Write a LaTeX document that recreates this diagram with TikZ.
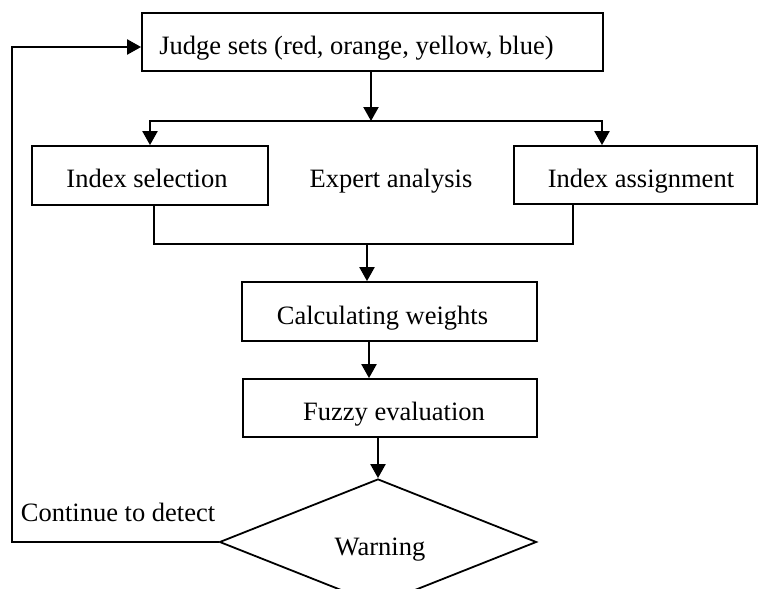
\documentclass[tikz,border=0pt]{standalone}
\usepackage{fontspec}
\setmainfont{Liberation Serif}
\usetikzlibrary{arrows.meta,shapes.geometric}
\begin{document}
\begin{tikzpicture}[x=1pt,y=-1pt,
  font=\fontsize{26.5}{30}\selectfont,
  box/.style={draw, line width=1.8pt, inner sep=0pt},
  lbl/.style={anchor=base, inner sep=0pt},
  conn/.style={draw, line width=2.2pt},
  arr/.style={conn, -{Triangle[length=14pt,width=15pt]}}]
\useasboundingbox (0,0) rectangle (758,589);
\clip (0,0) rectangle (758,589);
% boxes
\node[box, minimum width=461pt, minimum height=58pt] (judge) at (372.5,42) {};
\node[box, minimum width=236pt, minimum height=59pt] (sel) at (150,175.5) {};
\node[box, minimum width=243pt, minimum height=58pt] (asg) at (635.5,175) {};
\node[box, minimum width=295pt, minimum height=59pt] (calc) at (389.5,311.5) {};
\node[box, minimum width=294pt, minimum height=58pt] (fuzzy) at (390,408) {};
\node[box, diamond, minimum width=317pt, minimum height=126pt] (warn) at (378,542) {};
% labels
\node[lbl] (tjudge) at (356.5,54) {Judge sets (red, orange, yellow, blue)};
\node[lbl] (tsel) at (147,187) {Index selection};
\node[lbl] (texp) at (391,187) {Expert analysis};
\node[lbl] (tasg) at (641,187) {Index assignment};
\node[lbl] (tcalc) at (382.5,324) {Calculating weights};
\node[lbl] (tfuzzy) at (394,420) {Fuzzy evaluation};
\node[lbl] (twarn) at (380,555) {Warning};
\node[lbl] (tcont) at (118,521) {Continue to detect};
% connectors
\coordinate (split) at (371,121);
\coordinate (merge) at (367,244);
\coordinate (loopc) at (12,300);
\draw[arr] (judge.south -| split) -- (split);
\draw[arr] (split) -| (sel.north);
\draw[arr] (split) -| ([xshift=-33.5pt]asg.north);
\draw[conn] ([xshift=4pt]sel.south) |- (merge) -| ([xshift=-62.5pt]asg.south);
\draw[arr] (merge) -- (merge |- calc.north);
\draw[arr] ([xshift=-20.5pt]calc.south) -- ([xshift=-20.5pt]calc.south |- fuzzy.north);
\draw[arr] (fuzzy.south -| warn.north) -- (warn.north);
\draw[arr] (warn.west) -| (loopc) |- ([yshift=-5pt]judge.west);
\end{tikzpicture}
\end{document}
